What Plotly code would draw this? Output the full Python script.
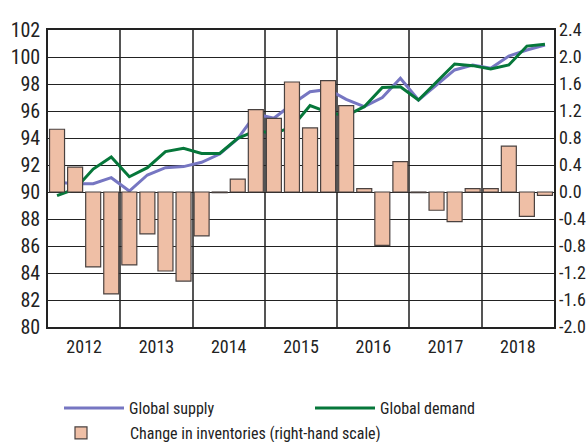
import plotly.graph_objects as go

quarters = list(range(28))
years = ["2012", "2013", "2014", "2015", "2016", "2017", "2018"]

supply = [90.72, 90.62, 90.62, 91.06, 90.07, 91.26, 91.80, 91.88,
          92.20, 92.81, 93.95, 95.78, 95.46, 96.50, 97.43, 97.60,
          96.86, 96.32, 97.00, 98.42, 96.81, 97.93, 99.04, 99.41,
          99.16, 100.07, 100.52, 100.89]
demand = [89.73, 90.22, 91.70, 92.60, 91.13, 91.80, 92.99, 93.23,
          92.86, 92.86, 93.97, 94.54, 94.35, 94.79, 96.40, 95.90,
          95.65, 96.32, 97.75, 97.80, 96.81, 98.17, 99.48, 99.36,
          99.11, 99.41, 100.81, 100.94]
inventories = [0.93, 0.37, -1.11, -1.51, -1.08, -0.62, -1.17, -1.32,
               -0.65, -0.01, 0.19, 1.22, 1.09, 1.63, 0.95, 1.65,
               1.28, 0.05, -0.79, 0.45, -0.01, -0.27, -0.44, 0.05,
               0.05, 0.68, -0.36, -0.05]

left_ticks = list(range(80, 103, 2))
right_ticks = [-2.0, -1.6, -1.2, -0.8, -0.4, 0.0, 0.4, 0.8, 1.2, 1.6, 2.0, 2.4]
right_ticktext = ["-2.0", "-1.6", "-1.2", "-0.8", "-0.4", "0.0", "0.4", "0.8", "1.2", "1.6", "2.0", "2.4"]

year_centers = [4 * i + 1.5 for i in range(len(years))]
year_bounds = [4 * i + 3.5 for i in range(len(years) - 1)]

FONT = "Roboto Condensed, Liberation Sans Narrow, sans-serif"

fig = go.Figure()
fig.add_trace(go.Bar(
    x=quarters, y=inventories, yaxis="y2", name="Change in inventories (right-hand scale)",
    marker=dict(color="#efbfa6", line=dict(color="#4a4240", width=1.2)),
    legend="legend3",
))
fig.add_trace(go.Scatter(
    x=quarters, y=supply, mode="lines", name="Global supply",
    line=dict(color="#7676c2", width=3), legend="legend",
))
fig.add_trace(go.Scatter(
    x=quarters, y=demand, mode="lines", name="Global demand",
    line=dict(color="#06773a", width=3), legend="legend2",
))

legend_common = dict(
    orientation="h", xref="container", yref="container",
    xanchor="left", yanchor="middle", font=dict(size=16, family=FONT),
    bgcolor="rgba(0,0,0,0)", visible=True,
)

fig.update_layout(
    width=588, height=442,
    margin=dict(l=48, r=34, t=30, b=115),
    paper_bgcolor="white", plot_bgcolor="white",
    font=dict(family=FONT, size=18, color="#222"),
    bargap=0.17,
    showlegend=True,
    xaxis=dict(
        range=[-0.5, 27.5], tickvals=year_centers, ticktext=years,
        showgrid=False, zeroline=False, ticks="", showline=True,
        linecolor="#222", linewidth=1.5, mirror=True, automargin=False,
        minor=dict(tickvals=year_bounds, showgrid=True, gridcolor="#555", gridwidth=1.5),
        tickfont=dict(size=18), ticklabelstandoff=3,
    ),
    yaxis=dict(
        range=[80, 102], tickvals=left_ticks, showgrid=True, gridcolor="#222",
        gridwidth=1, zeroline=False, ticks="", showline=True, linecolor="#222",
        linewidth=1.5, mirror=True, tickfont=dict(size=20), automargin=False,
        ticklabelstandoff=2,
    ),
    yaxis2=dict(
        range=[-2.0, 2.4], tickvals=right_ticks, ticktext=right_ticktext,
        overlaying="y", side="right", showgrid=False, zeroline=False,
        ticks="", tickfont=dict(size=18), automargin=False, ticklabelstandoff=4,
    ),
    legend=dict(x=59 / 588, y=1 - 408 / 442, itemwidth=60, **legend_common),
    legend2=dict(x=310 / 588, y=1 - 408 / 442, itemwidth=60, **legend_common),
    legend3=dict(x=32 / 588, y=1 - 433 / 442, itemwidth=88, **legend_common),
)

fig.write_html("out.html", config={"displayModeBar": False},
               post_script="document.body.style.margin='0px';")
